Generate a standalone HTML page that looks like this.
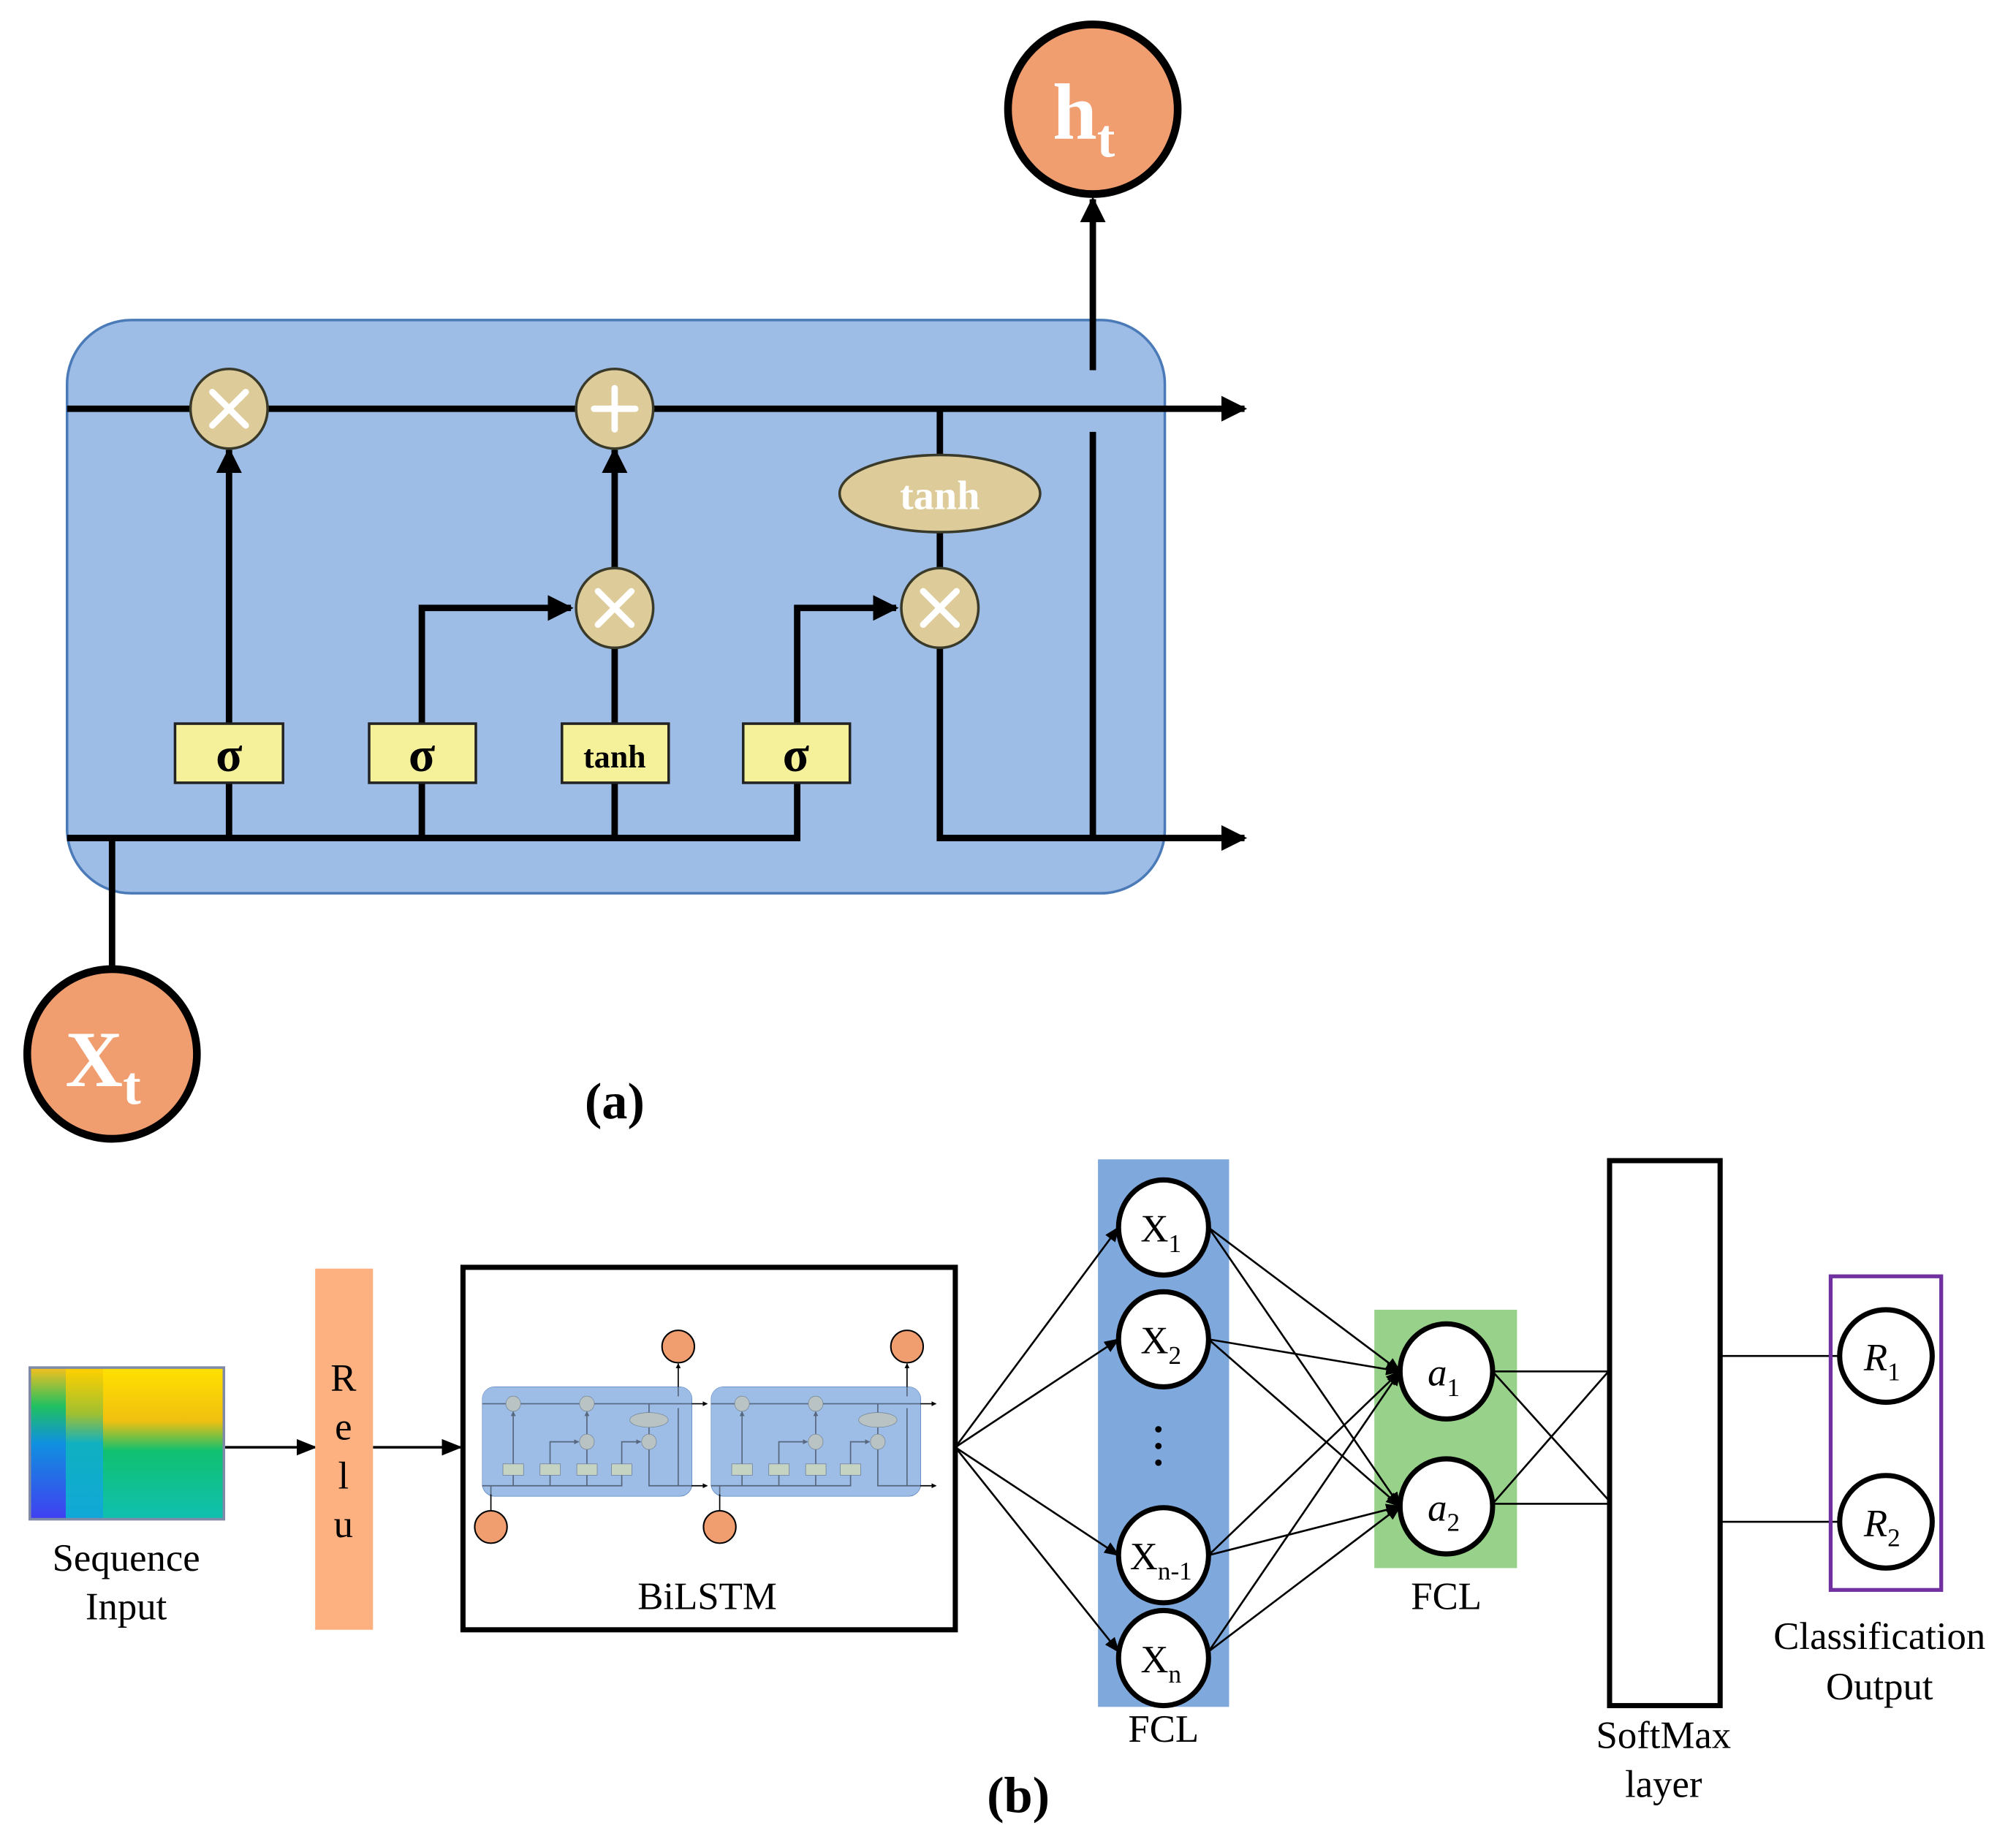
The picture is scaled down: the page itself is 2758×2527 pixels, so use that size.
<!DOCTYPE html>
<html><head><meta charset="utf-8"><style>
html,body{margin:0;padding:0;background:#fff}
svg{display:block}
svg text{font-family:"Liberation Serif","DejaVu Serif",serif}
</style></head><body>
<svg width="2758" height="2527" viewBox="0 0 1568 1437" xmlns="http://www.w3.org/2000/svg" font-family="Liberation Serif, DejaVu Serif, serif">
<defs>
<marker id="ar" viewBox="0 0 10 10" refX="9" refY="5" markerWidth="4" markerHeight="4" orient="auto-start-reverse" markerUnits="strokeWidth"><path d="M0,0 L10,5 L0,10 z" fill="#000"/></marker>
<marker id="ar2" viewBox="0 0 10 10" refX="9" refY="5" markerWidth="8" markerHeight="8" orient="auto" markerUnits="strokeWidth"><path d="M0,1 L10,5 L0,9 z" fill="#000"/></marker>
<linearGradient id="c1" x1="0" y1="0" x2="0" y2="1"><stop offset="0" stop-color="#f0c020"/><stop offset="0.25" stop-color="#20c060"/><stop offset="0.5" stop-color="#1090e0"/><stop offset="1" stop-color="#4040f0"/></linearGradient>
<linearGradient id="c2" x1="0" y1="0" x2="0" y2="1"><stop offset="0" stop-color="#ffd000"/><stop offset="0.3" stop-color="#a0c030"/><stop offset="0.5" stop-color="#10b0c0"/><stop offset="1" stop-color="#10a8d8"/></linearGradient>
<linearGradient id="c3" x1="0" y1="0" x2="0" y2="1"><stop offset="0" stop-color="#ffe000"/><stop offset="0.35" stop-color="#f0c010"/><stop offset="0.55" stop-color="#10c070"/><stop offset="1" stop-color="#10c0b0"/></linearGradient>
<g id="cell">
<rect x="52" y="249" width="854" height="446" rx="50" fill="#9dbce6" stroke="#4a7ab8" stroke-width="2"/>
<g stroke="#000" stroke-width="5" fill="none">
<line x1="52" y1="318" x2="968" y2="318" marker-end="url(#ar)"/>
<polyline points="52,652 620,652 620,473 697,473" marker-end="url(#ar)"/>
<polyline points="731,318 731,354"/>
<polyline points="731,414 731,443"/>
<polyline points="731,503 731,652 968,652" marker-end="url(#ar)"/>
<line x1="178" y1="652" x2="178" y2="350" marker-end="url(#ar)"/>
<polyline points="328,652 328,473 444,473" marker-end="url(#ar)"/>
<line x1="478" y1="652" x2="478" y2="503"/>
<line x1="478" y1="443" x2="478" y2="350" marker-end="url(#ar)"/>
<line x1="850" y1="652" x2="850" y2="336"/>
<line x1="850" y1="288" x2="850" y2="155" marker-end="url(#ar)"/>
<line x1="87" y1="652" x2="87" y2="754"/>
</g>
<g fill="#ddcc99" stroke="#3a3a2a" stroke-width="2">
<ellipse cx="178" cy="318" rx="30" ry="31"/>
<ellipse cx="478" cy="318" rx="30" ry="31"/>
<ellipse cx="478" cy="473" rx="30" ry="31"/>
<ellipse cx="731" cy="473" rx="30" ry="31"/>
<ellipse cx="731" cy="384" rx="78" ry="30"/>
</g>
<g fill="#f5f09a" stroke="#222" stroke-width="2">
<rect x="136" y="563" width="84" height="46"/>
<rect x="287" y="563" width="83" height="46"/>
<rect x="437" y="563" width="83" height="46"/>
<rect x="578" y="563" width="83" height="46"/>
</g>
<circle cx="850" cy="85" r="66" fill="#f09d6f" stroke="#000" stroke-width="6"/>
<circle cx="87" cy="820" r="66" fill="#f09d6f" stroke="#000" stroke-width="6"/>
</g>
</defs>

<use href="#cell"/>
<g stroke="#fff" stroke-width="5" stroke-linecap="round">
<line x1="165" y1="305" x2="191" y2="331"/><line x1="191" y1="305" x2="165" y2="331"/>
<line x1="478" y1="302" x2="478" y2="334"/><line x1="462" y1="318" x2="494" y2="318"/>
<line x1="465" y1="460" x2="491" y2="486"/><line x1="491" y1="460" x2="465" y2="486"/>
<line x1="718" y1="460" x2="744" y2="486"/><line x1="744" y1="460" x2="718" y2="486"/>
</g>
<g font-weight="bold" text-anchor="middle">
<text x="731" y="396" font-size="32" fill="#fff">tanh</text>
<text x="178" y="600" font-size="38">σ</text>
<text x="328" y="600" font-size="38">σ</text>
<text x="478" y="597" font-size="25">tanh</text>
<text x="619" y="600" font-size="38">σ</text>
<text x="843" y="108" font-size="62" fill="#fff">h<tspan font-size="42" dy="14">t</tspan></text>
<text x="80" y="845" font-size="62" fill="#fff">X<tspan font-size="42" dy="14">t</tspan></text>
<text x="478" y="870" font-size="40">(a)</text>
<text x="792" y="1410" font-size="40">(b)</text>
</g>

<!-- part b -->
<rect x="22" y="1063" width="153" height="120" fill="#7e8aa8"/>
<rect x="24" y="1065" width="27" height="116" fill="url(#c1)"/>
<rect x="51" y="1065" width="29" height="116" fill="url(#c2)"/>
<rect x="80" y="1065" width="93" height="116" fill="url(#c3)"/>
<g font-size="30" text-anchor="middle">
<text x="98" y="1222">Sequence</text><text x="98" y="1260">Input</text>
</g>
<g stroke="#000" stroke-width="2" fill="none">
<line x1="175" y1="1126" x2="245" y2="1126" marker-end="url(#ar2)"/>
<line x1="290" y1="1126" x2="358" y2="1126" marker-end="url(#ar2)"/>
</g>
<rect x="245" y="987" width="45" height="281" fill="#fdb180"/>
<g font-size="30" text-anchor="middle">
<text x="267" y="1082">R</text><text x="267" y="1120">e</text><text x="267" y="1158">l</text><text x="267" y="1196">u</text>
</g>
<rect x="360" y="986" width="383" height="282" fill="#fff" stroke="#000" stroke-width="4"/>
<use href="#cell" transform="translate(365.1,1031.4) scale(0.191)"/>
<use href="#cell" transform="translate(543.1,1031.4) scale(0.191)"/>
<rect x="375" y="1079" width="163" height="84" rx="9" fill="#9dbce6" opacity="0.55"/>
<rect x="553" y="1079" width="163" height="84" rx="9" fill="#9dbce6" opacity="0.55"/>
<text x="550" y="1252" font-size="30" text-anchor="middle">BiLSTM</text>

<rect x="854" y="902" width="102" height="426" fill="#7fa8dc"/>
<rect x="1069" y="1019" width="111" height="201" fill="#98d28a"/>
<g stroke="#000" stroke-width="1.5" fill="none">
<line x1="743" y1="1126" x2="870" y2="955" marker-end="url(#ar2)"/>
<line x1="743" y1="1126" x2="870" y2="1042" marker-end="url(#ar2)"/>
<line x1="743" y1="1126" x2="870" y2="1210" marker-end="url(#ar2)"/>
<line x1="743" y1="1126" x2="870" y2="1285" marker-end="url(#ar2)"/>
<g marker-end="url(#ar2)">
<line x1="940" y1="955" x2="1089" y2="1067"/><line x1="940" y1="955" x2="1089" y2="1172"/>
<line x1="940" y1="1042" x2="1089" y2="1067"/><line x1="940" y1="1042" x2="1089" y2="1172"/>
<line x1="940" y1="1210" x2="1089" y2="1067"/><line x1="940" y1="1210" x2="1089" y2="1172"/>
<line x1="940" y1="1285" x2="1089" y2="1067"/><line x1="940" y1="1285" x2="1089" y2="1172"/>
</g>
<line x1="1161" y1="1067" x2="1252" y2="1067"/><line x1="1161" y1="1067" x2="1252" y2="1168"/>
<line x1="1161" y1="1170" x2="1252" y2="1170"/><line x1="1161" y1="1170" x2="1252" y2="1066"/>
<line x1="1338" y1="1055" x2="1431" y2="1055"/>
<line x1="1338" y1="1184" x2="1431" y2="1184"/>
</g>
<g fill="#fff" stroke="#000" stroke-width="4">
<ellipse cx="905" cy="955" rx="35" ry="37"/>
<ellipse cx="905" cy="1042" rx="35" ry="37"/>
<ellipse cx="905" cy="1210" rx="35" ry="37"/>
<ellipse cx="905" cy="1290" rx="35" ry="37"/>
<ellipse cx="1125" cy="1067" rx="36" ry="37"/>
<ellipse cx="1125" cy="1172" rx="36" ry="37"/>
</g>
<g fill="#000"><circle cx="901" cy="1112" r="2.5"/><circle cx="901" cy="1125" r="2.5"/><circle cx="901" cy="1138" r="2.5"/></g>
<g font-size="30" text-anchor="middle">
<text x="903" y="966">X<tspan font-size="20" dy="8">1</tspan></text>
<text x="903" y="1053">X<tspan font-size="20" dy="8">2</tspan></text>
<text x="903" y="1221">X<tspan font-size="20" dy="8">n-1</tspan></text>
<text x="903" y="1301">X<tspan font-size="20" dy="8">n</tspan></text>
<text x="1123" y="1078" font-style="italic">a<tspan font-size="20" dy="8" font-style="normal">1</tspan></text>
<text x="1123" y="1183" font-style="italic">a<tspan font-size="20" dy="8" font-style="normal">2</tspan></text>
<text x="905" y="1355">FCL</text>
<text x="1125" y="1252">FCL</text>
<text x="1294" y="1360">SoftMax</text><text x="1294" y="1398">layer</text>
<text x="1462" y="1283">Classification</text><text x="1462" y="1322">Output</text>
</g>
<rect x="1252" y="903" width="86" height="424" fill="#fff" stroke="#000" stroke-width="4"/>
<rect x="1424" y="993" width="86" height="244" fill="none" stroke="#7030a0" stroke-width="3"/>
<g fill="#fff" stroke="#000" stroke-width="4">
<ellipse cx="1467" cy="1055" rx="36" ry="36"/>
<ellipse cx="1467" cy="1184" rx="36" ry="36"/>
</g>
<g font-size="30" text-anchor="middle" font-style="italic">
<text x="1464" y="1066">R<tspan font-size="20" dy="8" font-style="normal">1</tspan></text>
<text x="1464" y="1195">R<tspan font-size="20" dy="8" font-style="normal">2</tspan></text>
</g>
</svg>
</body></html>
